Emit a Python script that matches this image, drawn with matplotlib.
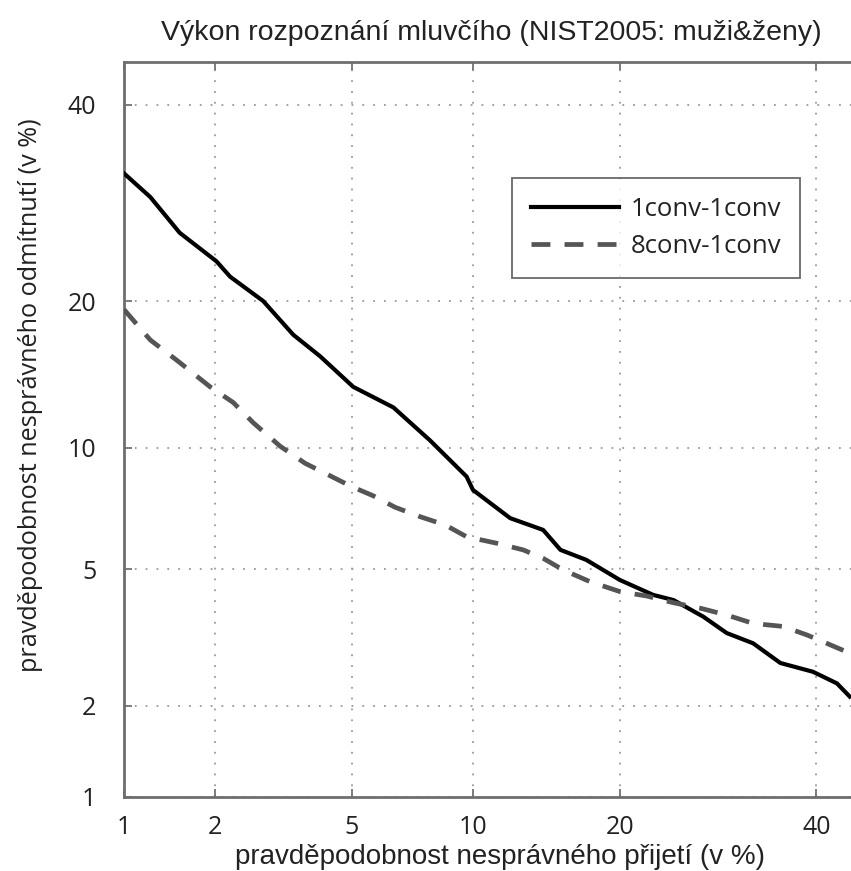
import math
import numpy as np
import matplotlib
matplotlib.use("Agg")
from matplotlib import pyplot as plt
from matplotlib.ticker import FixedLocator, FixedFormatter, NullLocator

# DET curves, values (in %)
far_1c = [1.0, 1.23, 1.54, 2.02, 2.23, 2.81, 3.44, 4.10, 5.05, 6.43, 7.93, 9.67, 10.0,
          12.1, 14.2, 15.4, 17.3, 20.0, 22.9, 24.8, 27.7, 30.1, 32.9, 35.9, 39.6, 42.4, 43.9]
frr_1c = [32.3, 29.8, 26.2, 23.5, 22.1, 20.0, 17.3, 15.7, 13.6, 12.3, 10.4, 8.58, 7.97,
          6.79, 6.34, 5.63, 5.30, 4.68, 4.26, 4.12, 3.70, 3.32, 3.10, 2.71, 2.55, 2.35, 2.14]
far_8c = [1.0, 1.23, 1.51, 1.93, 2.28, 2.62, 3.15, 3.72, 4.32, 5.0, 5.71, 6.49, 7.49, 8.61,
          9.67, 11.3, 12.9, 14.2, 15.6, 17.6, 20.0, 22.3, 24.8, 27.4, 30.1, 32.9, 36.2, 38.9,
          41.2, 43.9]
frr_8c = [19.3, 16.9, 15.4, 13.6, 12.6, 11.4, 10.1, 9.22, 8.66, 8.12, 7.71, 7.23, 6.85, 6.53,
          6.09, 5.86, 5.63, 5.35, 4.98, 4.63, 4.35, 4.23, 4.05, 3.91, 3.74, 3.54, 3.47, 3.28,
          3.10, 2.90]
ticks = [1, 2, 5, 10, 20, 40]
tick_labels = ["1", "2", "5", "10", "20", "40"]


def probit(pct):
    # Acklam's approximation of the inverse normal CDF
    p = np.clip(np.asarray(pct, dtype=float) / 100.0, 1e-9, 1 - 1e-9)
    a = [-3.969683028665376e+01, 2.209460984245205e+02, -2.759285104469687e+02,
         1.383577518672690e+02, -3.066479806614716e+01, 2.506628277459239e+00]
    b = [-5.447609879822406e+01, 1.615858368580409e+02, -1.556989798598866e+02,
         6.680131188771972e+01, -1.328068155288572e+01]
    c = [-7.784894002430293e-03, -3.223964580411365e-01, -2.400758277161838e+00,
         -2.549732539343734e+00, 4.374664141464968e+00, 2.938163982698783e+00]
    d = [7.784695709041462e-03, 3.224671290700398e-01, 2.445134137142996e+00,
         3.754408661907416e+00]
    out = np.zeros_like(p)
    lo = p < 0.02425
    hi = p > 1 - 0.02425
    mid = ~(lo | hi)
    q = np.sqrt(-2 * np.log(p[lo]))
    out[lo] = (((((c[0]*q+c[1])*q+c[2])*q+c[3])*q+c[4])*q+c[5]) / ((((d[0]*q+d[1])*q+d[2])*q+d[3])*q+1)
    q = np.sqrt(-2 * np.log(1 - p[hi]))
    out[hi] = -(((((c[0]*q+c[1])*q+c[2])*q+c[3])*q+c[4])*q+c[5]) / ((((d[0]*q+d[1])*q+d[2])*q+d[3])*q+1)
    q = p[mid] - 0.5
    r = q * q
    out[mid] = (((((a[0]*r+a[1])*r+a[2])*r+a[3])*r+a[4])*r+a[5])*q / (((((b[0]*r+b[1])*r+b[2])*r+b[3])*r+b[4])*r+1)
    return out


_erf = np.vectorize(math.erf)


def inv_probit(z):
    z = np.asarray(z, dtype=float)
    return 100.0 * 0.5 * (1 + _erf(z / math.sqrt(2)))


helv = ["Liberation Sans", "DejaVu Sans"]
myriad = ["Open Sans", "DejaVu Sans"]

fig = plt.figure(figsize=(8.51, 8.71), dpi=100)
ax = fig.add_axes([0.1457, 0.0850, 0.8637, 0.8439])
ax.set_xscale("function", functions=(probit, inv_probit))
ax.set_yscale("function", functions=(probit, inv_probit))

ax.plot(far_1c, frr_1c, color="black", lw=3.0, label="1conv-1conv", zorder=3)
ax.plot(far_8c, frr_8c, color="#555555", lw=3.4, ls=(0, (4, 3)), label="8conv-1conv", zorder=3)

ax.set_xlim(1, 45)
ax.set_ylim(1, 45)

for axis in (ax.xaxis, ax.yaxis):
    axis.set_major_locator(FixedLocator(ticks))
    axis.set_major_formatter(FixedFormatter(tick_labels))
    axis.set_minor_locator(NullLocator())
for lab in ax.get_xticklabels() + ax.get_yticklabels():
    lab.set_fontfamily(myriad)
    lab.set_fontsize(18)
    lab.set_color("#222222")
ax.tick_params(direction="in", length=6, width=1.2, color="#666666", top=True, right=True)
ax.tick_params(axis="x", pad=13)
ax.tick_params(axis="y", pad=20)
ax.grid(True, color="#9a9a9a", ls=(0, (1, 5)), lw=1.3)

for s in ax.spines.values():
    s.set_color("#6e6e6e")
    s.set_linewidth(2.0)

ax.set_title("Výkon rozpoznání mluvčího (NIST2005: muži&ženy)",
             family=helv, fontsize=20.5, color="#222222", pad=16)
ax.set_xlabel("pravděpodobnost nesprávného přijetí (v %)",
              family=helv, fontsize=20, color="#222222")
ax.xaxis.set_label_coords(0.5116, -0.064)
ax.set_ylabel("pravděpodobnost nesprávného odmítnutí (v %)",
              family=myriad, fontsize=18.2, color="#222222")
ax.yaxis.set_label_coords(-0.110, 0.547)

leg = ax.legend(loc="upper left", bbox_to_anchor=(0.528, 0.842), borderaxespad=0,
                frameon=True, fancybox=False, handlelength=3.4, handletextpad=0.45,
                borderpad=0.75, labelspacing=0.45, prop={"family": myriad, "size": 18.5})
leg.get_frame().set_edgecolor("#444444")
leg.get_frame().set_linewidth(1.3)
for t in leg.get_texts():
    t.set_color("#222222")

fig.savefig("out.png", dpi=100)
